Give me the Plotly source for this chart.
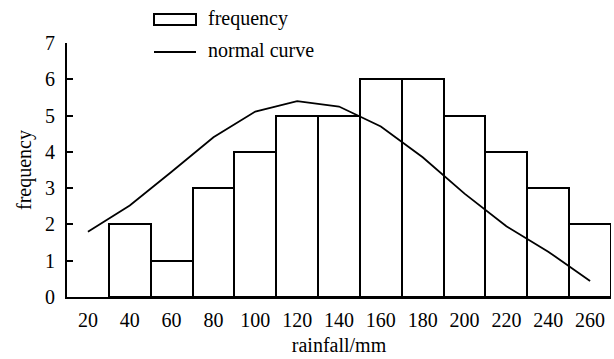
import plotly.graph_objects as go

rainfall_bins = [40, 60, 80, 100, 120, 140, 160, 180, 200, 220, 240, 260]
frequency = [2, 1, 3, 4, 5, 5, 6, 6, 5, 4, 3, 2]
curve_x = [20, 40, 60, 80, 100, 120, 140, 160, 180, 200, 220, 240, 260]
curve_y = [1.8, 2.52, 3.45, 4.4, 5.11, 5.4, 5.25, 4.7, 3.85, 2.85, 1.95, 1.25, 0.44]
x_ticks = [20, 40, 60, 80, 100, 120, 140, 160, 180, 200, 220, 240, 260]
y_ticks = [0, 1, 2, 3, 4, 5, 6, 7]

FONT = "Liberation Serif"
FS = 20

fig = go.Figure()
fig.add_trace(go.Bar(x=rainfall_bins, y=frequency, width=20, name="frequency",
                     marker=dict(color="white", line=dict(color="black", width=2)),
                     showlegend=False))
fig.add_trace(go.Scatter(x=curve_x, y=curve_y, mode="lines", name="normal curve",
                         line=dict(color="black", width=1.8), showlegend=False))

fig.update_layout(
    width=614, height=359,
    margin=dict(l=67, r=3, t=43, b=62),
    paper_bgcolor="white", plot_bgcolor="white",
    font=dict(family=FONT, size=FS, color="black"),
    xaxis=dict(range=[10, 270], tickvals=x_ticks, ticktext=[str(v) for v in x_ticks],
               showline=True, linecolor="black", linewidth=2, ticks="",
               ticklabelstandoff=4, layer="above traces",
               showgrid=False, zeroline=False,
               title=dict(text="rainfall/mm", standoff=8, font=dict(size=FS))),
    yaxis=dict(range=[0, 7], tickvals=y_ticks, showline=True, linecolor="black",
               linewidth=2, ticks="inside", ticklen=6, tickwidth=2, tickcolor="black",
               ticklabelstandoff=6,
               showgrid=False, zeroline=False,
               title=dict(text="frequency", standoff=8, font=dict(size=FS))),
    bargap=0,
)

# manual legend
fig.add_shape(type="rect", xref="paper", yref="paper",
              x0=(154 - 67) / 544, x1=(196 - 67) / 544,
              y0=(297 - 25) / 254, y1=(297 - 14) / 254,
              line=dict(color="black", width=2), fillcolor="white")
fig.add_shape(type="line", xref="paper", yref="paper",
              x0=(154 - 67) / 544, x1=(196 - 67) / 544,
              y0=(297 - 52) / 254, y1=(297 - 52) / 254,
              line=dict(color="black", width=2))
fig.add_annotation(text="frequency", xref="paper", yref="paper",
                   x=(206 - 67) / 544, y=(297 - 19) / 254, xanchor="left", yanchor="middle",
                   showarrow=False, font=dict(family=FONT, size=FS))
fig.add_annotation(text="normal curve", xref="paper", yref="paper",
                   x=(206 - 67) / 544, y=(297 - 50) / 254, xanchor="left", yanchor="middle",
                   showarrow=False, font=dict(family=FONT, size=FS))

fig.write_html("out.html")
